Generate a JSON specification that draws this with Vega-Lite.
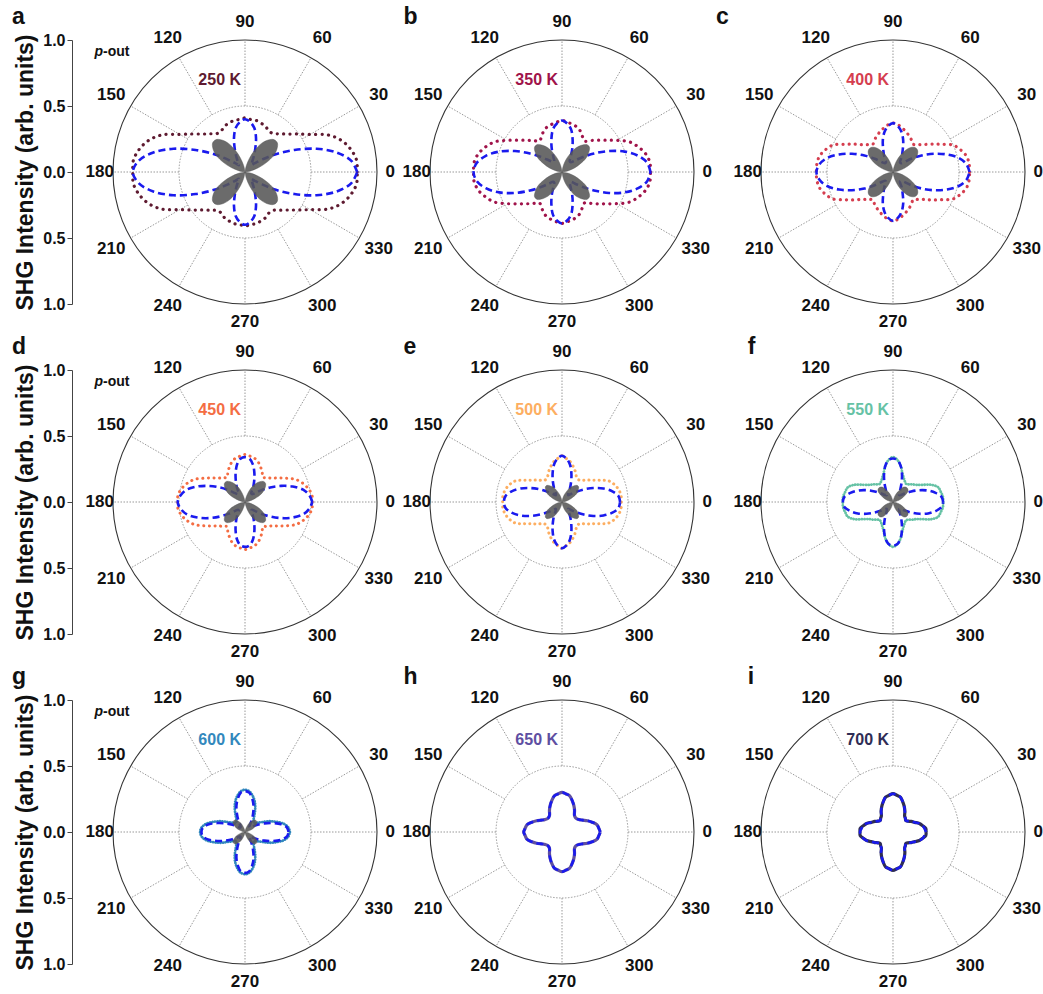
{
"$schema":"https://vega.github.io/schema/vega-lite/v6.json",
"background":"white",
"padding":{"left":12,"top":5,"right":0,"bottom":0},
"bounds":"flush",
"columns":3,
"spacing":{"row":66,"column":53},
"config":{"view":{"stroke":null},"font":"Liberation Sans"},
"datasets":{
"one":[{"o":1}],
"grid":[{"t":0,"lab":"0"},{"t":30,"lab":"30"},{"t":60,"lab":"60"},{"t":90,"lab":"90"},{"t":120,"lab":"120"},{"t":150,"lab":"150"},{"t":180,"lab":"180"},{"t":210,"lab":"210"},{"t":240,"lab":"240"},{"t":270,"lab":"270"},{"t":300,"lab":"300"},{"t":330,"lab":"330"}],
"curves":[
{"p":"a","t":0,"m":0.85,"f":0.85,"g":0},{"p":"a","t":6,"m":0.85,"f":0.81,"g":0.01},{"p":"a","t":12,"m":0.82,"f":0.71,"g":0.05},{"p":"a","t":18,"m":0.77,"f":0.57,"g":0.11},{"p":"a","t":24,"m":0.69,"f":0.41,"g":0.18},{"p":"a","t":30,"m":0.57,"f":0.27,"g":0.25},{"p":"a","t":36,"m":0.49,"f":0.16,"g":0.3},{"p":"a","t":42,"m":0.43,"f":0.1,"g":0.33},{"p":"a","t":48,"m":0.39,"f":0.07,"g":0.33},{"p":"a","t":54,"m":0.36,"f":0.09,"g":0.3},{"p":"a","t":60,"m":0.36,"f":0.13,"g":0.25},{"p":"a","t":66,"m":0.38,"f":0.19,"g":0.18},{"p":"a","t":72,"m":0.39,"f":0.27,"g":0.11},{"p":"a","t":78,"m":0.4,"f":0.34,"g":0.05},{"p":"a","t":84,"m":0.4,"f":0.38,"g":0.01},{"p":"a","t":90,"m":0.41,"f":0.4,"g":0},
{"p":"a","t":96,"m":0.4,"f":0.38,"g":0.01},{"p":"a","t":102,"m":0.4,"f":0.34,"g":0.05},{"p":"a","t":108,"m":0.39,"f":0.27,"g":0.11},{"p":"a","t":114,"m":0.38,"f":0.19,"g":0.18},{"p":"a","t":120,"m":0.36,"f":0.13,"g":0.25},{"p":"a","t":126,"m":0.36,"f":0.09,"g":0.3},{"p":"a","t":132,"m":0.39,"f":0.07,"g":0.33},{"p":"a","t":138,"m":0.43,"f":0.1,"g":0.33},{"p":"a","t":144,"m":0.49,"f":0.16,"g":0.3},{"p":"a","t":150,"m":0.57,"f":0.27,"g":0.25},{"p":"a","t":156,"m":0.69,"f":0.41,"g":0.18},{"p":"a","t":162,"m":0.77,"f":0.57,"g":0.11},{"p":"a","t":168,"m":0.82,"f":0.71,"g":0.05},{"p":"a","t":174,"m":0.85,"f":0.81,"g":0.01},
{"p":"a","t":180,"m":0.85,"f":0.85,"g":0},{"p":"a","t":186,"m":0.85,"f":0.81,"g":0.01},{"p":"a","t":192,"m":0.82,"f":0.71,"g":0.05},{"p":"a","t":198,"m":0.77,"f":0.57,"g":0.11},{"p":"a","t":204,"m":0.69,"f":0.41,"g":0.18},{"p":"a","t":210,"m":0.57,"f":0.27,"g":0.25},{"p":"a","t":216,"m":0.49,"f":0.16,"g":0.3},{"p":"a","t":222,"m":0.43,"f":0.1,"g":0.33},{"p":"a","t":228,"m":0.39,"f":0.07,"g":0.33},{"p":"a","t":234,"m":0.36,"f":0.09,"g":0.3},{"p":"a","t":240,"m":0.36,"f":0.13,"g":0.25},{"p":"a","t":246,"m":0.38,"f":0.19,"g":0.18},{"p":"a","t":252,"m":0.39,"f":0.27,"g":0.11},{"p":"a","t":258,"m":0.4,"f":0.34,"g":0.05},{"p":"a","t":264,"m":0.4,"f":0.38,"g":0.01},{"p":"a","t":270,"m":0.41,"f":0.4,"g":0},
{"p":"a","t":276,"m":0.4,"f":0.38,"g":0.01},{"p":"a","t":282,"m":0.4,"f":0.34,"g":0.05},{"p":"a","t":288,"m":0.39,"f":0.27,"g":0.11},{"p":"a","t":294,"m":0.38,"f":0.19,"g":0.18},{"p":"a","t":300,"m":0.36,"f":0.13,"g":0.25},{"p":"a","t":306,"m":0.36,"f":0.09,"g":0.3},{"p":"a","t":312,"m":0.39,"f":0.07,"g":0.33},{"p":"a","t":318,"m":0.43,"f":0.1,"g":0.33},{"p":"a","t":324,"m":0.49,"f":0.16,"g":0.3},{"p":"a","t":330,"m":0.57,"f":0.27,"g":0.25},{"p":"a","t":336,"m":0.69,"f":0.41,"g":0.18},{"p":"a","t":342,"m":0.77,"f":0.57,"g":0.11},{"p":"a","t":348,"m":0.82,"f":0.71,"g":0.05},{"p":"a","t":354,"m":0.85,"f":0.81,"g":0.01},{"p":"a","t":360,"m":0.85,"f":0.85,"g":0},

{"p":"b","t":0,"m":0.67,"f":0.67,"g":0},{"p":"b","t":6,"m":0.67,"f":0.65,"g":0.01},{"p":"b","t":12,"m":0.65,"f":0.59,"g":0.05},{"p":"b","t":18,"m":0.61,"f":0.5,"g":0.1},{"p":"b","t":24,"m":0.56,"f":0.39,"g":0.15},{"p":"b","t":30,"m":0.48,"f":0.28,"g":0.21},{"p":"b","t":36,"m":0.41,"f":0.19,"g":0.25},{"p":"b","t":42,"m":0.36,"f":0.13,"g":0.28},{"p":"b","t":48,"m":0.32,"f":0.1,"g":0.28},{"p":"b","t":54,"m":0.29,"f":0.1,"g":0.25},{"p":"b","t":60,"m":0.31,"f":0.13,"g":0.21},{"p":"b","t":66,"m":0.34,"f":0.19,"g":0.15},{"p":"b","t":72,"m":0.36,"f":0.26,"g":0.1},{"p":"b","t":78,"m":0.37,"f":0.33,"g":0.05},{"p":"b","t":84,"m":0.38,"f":0.37,"g":0.01},{"p":"b","t":90,"m":0.39,"f":0.39,"g":0},
{"p":"b","t":96,"m":0.38,"f":0.37,"g":0.01},{"p":"b","t":102,"m":0.37,"f":0.33,"g":0.05},{"p":"b","t":108,"m":0.36,"f":0.26,"g":0.1},{"p":"b","t":114,"m":0.34,"f":0.19,"g":0.15},{"p":"b","t":120,"m":0.31,"f":0.13,"g":0.21},{"p":"b","t":126,"m":0.29,"f":0.1,"g":0.25},{"p":"b","t":132,"m":0.32,"f":0.1,"g":0.28},{"p":"b","t":138,"m":0.36,"f":0.13,"g":0.28},{"p":"b","t":144,"m":0.41,"f":0.19,"g":0.25},{"p":"b","t":150,"m":0.48,"f":0.28,"g":0.21},{"p":"b","t":156,"m":0.56,"f":0.39,"g":0.15},{"p":"b","t":162,"m":0.61,"f":0.5,"g":0.1},{"p":"b","t":168,"m":0.65,"f":0.59,"g":0.05},{"p":"b","t":174,"m":0.67,"f":0.65,"g":0.01},
{"p":"b","t":180,"m":0.67,"f":0.67,"g":0},{"p":"b","t":186,"m":0.67,"f":0.65,"g":0.01},{"p":"b","t":192,"m":0.65,"f":0.59,"g":0.05},{"p":"b","t":198,"m":0.61,"f":0.5,"g":0.1},{"p":"b","t":204,"m":0.56,"f":0.39,"g":0.15},{"p":"b","t":210,"m":0.48,"f":0.28,"g":0.21},{"p":"b","t":216,"m":0.41,"f":0.19,"g":0.25},{"p":"b","t":222,"m":0.36,"f":0.13,"g":0.28},{"p":"b","t":228,"m":0.32,"f":0.1,"g":0.28},{"p":"b","t":234,"m":0.29,"f":0.1,"g":0.25},{"p":"b","t":240,"m":0.31,"f":0.13,"g":0.21},{"p":"b","t":246,"m":0.34,"f":0.19,"g":0.15},{"p":"b","t":252,"m":0.36,"f":0.26,"g":0.1},{"p":"b","t":258,"m":0.37,"f":0.33,"g":0.05},{"p":"b","t":264,"m":0.38,"f":0.37,"g":0.01},{"p":"b","t":270,"m":0.39,"f":0.39,"g":0},
{"p":"b","t":276,"m":0.38,"f":0.37,"g":0.01},{"p":"b","t":282,"m":0.37,"f":0.33,"g":0.05},{"p":"b","t":288,"m":0.36,"f":0.26,"g":0.1},{"p":"b","t":294,"m":0.34,"f":0.19,"g":0.15},{"p":"b","t":300,"m":0.31,"f":0.13,"g":0.21},{"p":"b","t":306,"m":0.29,"f":0.1,"g":0.25},{"p":"b","t":312,"m":0.32,"f":0.1,"g":0.28},{"p":"b","t":318,"m":0.36,"f":0.13,"g":0.28},{"p":"b","t":324,"m":0.41,"f":0.19,"g":0.25},{"p":"b","t":330,"m":0.48,"f":0.28,"g":0.21},{"p":"b","t":336,"m":0.56,"f":0.39,"g":0.15},{"p":"b","t":342,"m":0.61,"f":0.5,"g":0.1},{"p":"b","t":348,"m":0.65,"f":0.59,"g":0.05},{"p":"b","t":354,"m":0.67,"f":0.65,"g":0.01},{"p":"b","t":360,"m":0.67,"f":0.67,"g":0},

{"p":"c","t":0,"m":0.58,"f":0.58,"g":0},{"p":"c","t":6,"m":0.58,"f":0.56,"g":0.01},{"p":"c","t":12,"m":0.57,"f":0.51,"g":0.04},{"p":"c","t":18,"m":0.54,"f":0.43,"g":0.09},{"p":"c","t":24,"m":0.5,"f":0.34,"g":0.14},{"p":"c","t":30,"m":0.42,"f":0.25,"g":0.19},{"p":"c","t":36,"m":0.36,"f":0.17,"g":0.23},{"p":"c","t":42,"m":0.31,"f":0.11,"g":0.25},{"p":"c","t":48,"m":0.28,"f":0.09,"g":0.25},{"p":"c","t":54,"m":0.26,"f":0.09,"g":0.23},{"p":"c","t":60,"m":0.28,"f":0.13,"g":0.19},{"p":"c","t":66,"m":0.3,"f":0.18,"g":0.14},{"p":"c","t":72,"m":0.32,"f":0.25,"g":0.09},{"p":"c","t":78,"m":0.34,"f":0.31,"g":0.04},{"p":"c","t":84,"m":0.36,"f":0.35,"g":0.01},{"p":"c","t":90,"m":0.37,"f":0.37,"g":0},
{"p":"c","t":96,"m":0.36,"f":0.35,"g":0.01},{"p":"c","t":102,"m":0.34,"f":0.31,"g":0.04},{"p":"c","t":108,"m":0.32,"f":0.25,"g":0.09},{"p":"c","t":114,"m":0.3,"f":0.18,"g":0.14},{"p":"c","t":120,"m":0.28,"f":0.13,"g":0.19},{"p":"c","t":126,"m":0.26,"f":0.09,"g":0.23},{"p":"c","t":132,"m":0.28,"f":0.09,"g":0.25},{"p":"c","t":138,"m":0.31,"f":0.11,"g":0.25},{"p":"c","t":144,"m":0.36,"f":0.17,"g":0.23},{"p":"c","t":150,"m":0.42,"f":0.25,"g":0.19},{"p":"c","t":156,"m":0.5,"f":0.34,"g":0.14},{"p":"c","t":162,"m":0.54,"f":0.43,"g":0.09},{"p":"c","t":168,"m":0.57,"f":0.51,"g":0.04},{"p":"c","t":174,"m":0.58,"f":0.56,"g":0.01},
{"p":"c","t":180,"m":0.58,"f":0.58,"g":0},{"p":"c","t":186,"m":0.58,"f":0.56,"g":0.01},{"p":"c","t":192,"m":0.57,"f":0.51,"g":0.04},{"p":"c","t":198,"m":0.54,"f":0.43,"g":0.09},{"p":"c","t":204,"m":0.5,"f":0.34,"g":0.14},{"p":"c","t":210,"m":0.42,"f":0.25,"g":0.19},{"p":"c","t":216,"m":0.36,"f":0.17,"g":0.23},{"p":"c","t":222,"m":0.31,"f":0.11,"g":0.25},{"p":"c","t":228,"m":0.28,"f":0.09,"g":0.25},{"p":"c","t":234,"m":0.26,"f":0.09,"g":0.23},{"p":"c","t":240,"m":0.28,"f":0.13,"g":0.19},{"p":"c","t":246,"m":0.3,"f":0.18,"g":0.14},{"p":"c","t":252,"m":0.32,"f":0.25,"g":0.09},{"p":"c","t":258,"m":0.34,"f":0.31,"g":0.04},{"p":"c","t":264,"m":0.36,"f":0.35,"g":0.01},{"p":"c","t":270,"m":0.37,"f":0.37,"g":0},
{"p":"c","t":276,"m":0.36,"f":0.35,"g":0.01},{"p":"c","t":282,"m":0.34,"f":0.31,"g":0.04},{"p":"c","t":288,"m":0.32,"f":0.25,"g":0.09},{"p":"c","t":294,"m":0.3,"f":0.18,"g":0.14},{"p":"c","t":300,"m":0.28,"f":0.13,"g":0.19},{"p":"c","t":306,"m":0.26,"f":0.09,"g":0.23},{"p":"c","t":312,"m":0.28,"f":0.09,"g":0.25},{"p":"c","t":318,"m":0.31,"f":0.11,"g":0.25},{"p":"c","t":324,"m":0.36,"f":0.17,"g":0.23},{"p":"c","t":330,"m":0.42,"f":0.25,"g":0.19},{"p":"c","t":336,"m":0.5,"f":0.34,"g":0.14},{"p":"c","t":342,"m":0.54,"f":0.43,"g":0.09},{"p":"c","t":348,"m":0.57,"f":0.51,"g":0.04},{"p":"c","t":354,"m":0.58,"f":0.56,"g":0.01},{"p":"c","t":360,"m":0.58,"f":0.58,"g":0},

{"p":"d","t":0,"m":0.51,"f":0.51,"g":0},{"p":"d","t":6,"m":0.51,"f":0.49,"g":0.01},{"p":"d","t":12,"m":0.49,"f":0.45,"g":0.03},{"p":"d","t":18,"m":0.46,"f":0.38,"g":0.07},{"p":"d","t":24,"m":0.42,"f":0.3,"g":0.12},{"p":"d","t":30,"m":0.36,"f":0.22,"g":0.16},{"p":"d","t":36,"m":0.31,"f":0.15,"g":0.19},{"p":"d","t":42,"m":0.27,"f":0.1,"g":0.21},{"p":"d","t":48,"m":0.25,"f":0.08,"g":0.21},{"p":"d","t":54,"m":0.23,"f":0.08,"g":0.19},{"p":"d","t":60,"m":0.26,"f":0.12,"g":0.16},{"p":"d","t":66,"m":0.29,"f":0.17,"g":0.12},{"p":"d","t":72,"m":0.32,"f":0.23,"g":0.07},{"p":"d","t":78,"m":0.34,"f":0.29,"g":0.03},{"p":"d","t":84,"m":0.35,"f":0.33,"g":0.01},{"p":"d","t":90,"m":0.36,"f":0.34,"g":0},
{"p":"d","t":96,"m":0.35,"f":0.33,"g":0.01},{"p":"d","t":102,"m":0.34,"f":0.29,"g":0.03},{"p":"d","t":108,"m":0.32,"f":0.23,"g":0.07},{"p":"d","t":114,"m":0.29,"f":0.17,"g":0.12},{"p":"d","t":120,"m":0.26,"f":0.12,"g":0.16},{"p":"d","t":126,"m":0.23,"f":0.08,"g":0.19},{"p":"d","t":132,"m":0.25,"f":0.08,"g":0.21},{"p":"d","t":138,"m":0.27,"f":0.1,"g":0.21},{"p":"d","t":144,"m":0.31,"f":0.15,"g":0.19},{"p":"d","t":150,"m":0.36,"f":0.22,"g":0.16},{"p":"d","t":156,"m":0.42,"f":0.3,"g":0.12},{"p":"d","t":162,"m":0.46,"f":0.38,"g":0.07},{"p":"d","t":168,"m":0.49,"f":0.45,"g":0.03},{"p":"d","t":174,"m":0.51,"f":0.49,"g":0.01},
{"p":"d","t":180,"m":0.51,"f":0.51,"g":0},{"p":"d","t":186,"m":0.51,"f":0.49,"g":0.01},{"p":"d","t":192,"m":0.49,"f":0.45,"g":0.03},{"p":"d","t":198,"m":0.46,"f":0.38,"g":0.07},{"p":"d","t":204,"m":0.42,"f":0.3,"g":0.12},{"p":"d","t":210,"m":0.36,"f":0.22,"g":0.16},{"p":"d","t":216,"m":0.31,"f":0.15,"g":0.19},{"p":"d","t":222,"m":0.27,"f":0.1,"g":0.21},{"p":"d","t":228,"m":0.25,"f":0.08,"g":0.21},{"p":"d","t":234,"m":0.23,"f":0.08,"g":0.19},{"p":"d","t":240,"m":0.26,"f":0.12,"g":0.16},{"p":"d","t":246,"m":0.29,"f":0.17,"g":0.12},{"p":"d","t":252,"m":0.32,"f":0.23,"g":0.07},{"p":"d","t":258,"m":0.34,"f":0.29,"g":0.03},{"p":"d","t":264,"m":0.35,"f":0.33,"g":0.01},{"p":"d","t":270,"m":0.36,"f":0.34,"g":0},
{"p":"d","t":276,"m":0.35,"f":0.33,"g":0.01},{"p":"d","t":282,"m":0.34,"f":0.29,"g":0.03},{"p":"d","t":288,"m":0.32,"f":0.23,"g":0.07},{"p":"d","t":294,"m":0.29,"f":0.17,"g":0.12},{"p":"d","t":300,"m":0.26,"f":0.12,"g":0.16},{"p":"d","t":306,"m":0.23,"f":0.08,"g":0.19},{"p":"d","t":312,"m":0.25,"f":0.08,"g":0.21},{"p":"d","t":318,"m":0.27,"f":0.1,"g":0.21},{"p":"d","t":324,"m":0.31,"f":0.15,"g":0.19},{"p":"d","t":330,"m":0.36,"f":0.22,"g":0.16},{"p":"d","t":336,"m":0.42,"f":0.3,"g":0.12},{"p":"d","t":342,"m":0.46,"f":0.38,"g":0.07},{"p":"d","t":348,"m":0.49,"f":0.45,"g":0.03},{"p":"d","t":354,"m":0.51,"f":0.49,"g":0.01},{"p":"d","t":360,"m":0.51,"f":0.51,"g":0},

{"p":"e","t":0,"m":0.45,"f":0.44,"g":0},{"p":"e","t":6,"m":0.45,"f":0.43,"g":0.01},{"p":"e","t":12,"m":0.44,"f":0.39,"g":0.03},{"p":"e","t":18,"m":0.42,"f":0.33,"g":0.06},{"p":"e","t":24,"m":0.39,"f":0.26,"g":0.09},{"p":"e","t":30,"m":0.33,"f":0.19,"g":0.13},{"p":"e","t":36,"m":0.28,"f":0.13,"g":0.15},{"p":"e","t":42,"m":0.25,"f":0.09,"g":0.17},{"p":"e","t":48,"m":0.22,"f":0.07,"g":0.17},{"p":"e","t":54,"m":0.21,"f":0.08,"g":0.15},{"p":"e","t":60,"m":0.22,"f":0.12,"g":0.13},{"p":"e","t":66,"m":0.25,"f":0.17,"g":0.09},{"p":"e","t":72,"m":0.28,"f":0.23,"g":0.06},{"p":"e","t":78,"m":0.31,"f":0.29,"g":0.03},{"p":"e","t":84,"m":0.33,"f":0.33,"g":0.01},{"p":"e","t":90,"m":0.35,"f":0.35,"g":0},
{"p":"e","t":96,"m":0.33,"f":0.33,"g":0.01},{"p":"e","t":102,"m":0.31,"f":0.29,"g":0.03},{"p":"e","t":108,"m":0.28,"f":0.23,"g":0.06},{"p":"e","t":114,"m":0.25,"f":0.17,"g":0.09},{"p":"e","t":120,"m":0.22,"f":0.12,"g":0.13},{"p":"e","t":126,"m":0.21,"f":0.08,"g":0.15},{"p":"e","t":132,"m":0.22,"f":0.07,"g":0.17},{"p":"e","t":138,"m":0.25,"f":0.09,"g":0.17},{"p":"e","t":144,"m":0.28,"f":0.13,"g":0.15},{"p":"e","t":150,"m":0.33,"f":0.19,"g":0.13},{"p":"e","t":156,"m":0.39,"f":0.26,"g":0.09},{"p":"e","t":162,"m":0.42,"f":0.33,"g":0.06},{"p":"e","t":168,"m":0.44,"f":0.39,"g":0.03},{"p":"e","t":174,"m":0.45,"f":0.43,"g":0.01},
{"p":"e","t":180,"m":0.45,"f":0.44,"g":0},{"p":"e","t":186,"m":0.45,"f":0.43,"g":0.01},{"p":"e","t":192,"m":0.44,"f":0.39,"g":0.03},{"p":"e","t":198,"m":0.42,"f":0.33,"g":0.06},{"p":"e","t":204,"m":0.39,"f":0.26,"g":0.09},{"p":"e","t":210,"m":0.33,"f":0.19,"g":0.13},{"p":"e","t":216,"m":0.28,"f":0.13,"g":0.15},{"p":"e","t":222,"m":0.25,"f":0.09,"g":0.17},{"p":"e","t":228,"m":0.22,"f":0.07,"g":0.17},{"p":"e","t":234,"m":0.21,"f":0.08,"g":0.15},{"p":"e","t":240,"m":0.22,"f":0.12,"g":0.13},{"p":"e","t":246,"m":0.25,"f":0.17,"g":0.09},{"p":"e","t":252,"m":0.28,"f":0.23,"g":0.06},{"p":"e","t":258,"m":0.31,"f":0.29,"g":0.03},{"p":"e","t":264,"m":0.33,"f":0.33,"g":0.01},{"p":"e","t":270,"m":0.35,"f":0.35,"g":0},
{"p":"e","t":276,"m":0.33,"f":0.33,"g":0.01},{"p":"e","t":282,"m":0.31,"f":0.29,"g":0.03},{"p":"e","t":288,"m":0.28,"f":0.23,"g":0.06},{"p":"e","t":294,"m":0.25,"f":0.17,"g":0.09},{"p":"e","t":300,"m":0.22,"f":0.12,"g":0.13},{"p":"e","t":306,"m":0.21,"f":0.08,"g":0.15},{"p":"e","t":312,"m":0.22,"f":0.07,"g":0.17},{"p":"e","t":318,"m":0.25,"f":0.09,"g":0.17},{"p":"e","t":324,"m":0.28,"f":0.13,"g":0.15},{"p":"e","t":330,"m":0.33,"f":0.19,"g":0.13},{"p":"e","t":336,"m":0.39,"f":0.26,"g":0.09},{"p":"e","t":342,"m":0.42,"f":0.33,"g":0.06},{"p":"e","t":348,"m":0.44,"f":0.39,"g":0.03},{"p":"e","t":354,"m":0.45,"f":0.43,"g":0.01},{"p":"e","t":360,"m":0.45,"f":0.44,"g":0},

{"p":"f","t":0,"m":0.38,"f":0.38,"g":0},{"p":"f","t":6,"m":0.38,"f":0.37,"g":0.01},{"p":"f","t":12,"m":0.37,"f":0.33,"g":0.02},{"p":"f","t":18,"m":0.36,"f":0.28,"g":0.05},{"p":"f","t":24,"m":0.32,"f":0.22,"g":0.08},{"p":"f","t":30,"m":0.26,"f":0.16,"g":0.11},{"p":"f","t":36,"m":0.22,"f":0.11,"g":0.14},{"p":"f","t":42,"m":0.2,"f":0.08,"g":0.15},{"p":"f","t":48,"m":0.18,"f":0.07,"g":0.15},{"p":"f","t":54,"m":0.17,"f":0.08,"g":0.14},{"p":"f","t":60,"m":0.18,"f":0.11,"g":0.11},{"p":"f","t":66,"m":0.2,"f":0.16,"g":0.08},{"p":"f","t":72,"m":0.23,"f":0.22,"g":0.05},{"p":"f","t":78,"m":0.28,"f":0.28,"g":0.02},{"p":"f","t":84,"m":0.32,"f":0.32,"g":0.01},{"p":"f","t":90,"m":0.34,"f":0.33,"g":0},
{"p":"f","t":96,"m":0.32,"f":0.32,"g":0.01},{"p":"f","t":102,"m":0.28,"f":0.28,"g":0.02},{"p":"f","t":108,"m":0.23,"f":0.22,"g":0.05},{"p":"f","t":114,"m":0.2,"f":0.16,"g":0.08},{"p":"f","t":120,"m":0.18,"f":0.11,"g":0.11},{"p":"f","t":126,"m":0.17,"f":0.08,"g":0.14},{"p":"f","t":132,"m":0.18,"f":0.07,"g":0.15},{"p":"f","t":138,"m":0.2,"f":0.08,"g":0.15},{"p":"f","t":144,"m":0.22,"f":0.11,"g":0.14},{"p":"f","t":150,"m":0.26,"f":0.16,"g":0.11},{"p":"f","t":156,"m":0.32,"f":0.22,"g":0.08},{"p":"f","t":162,"m":0.36,"f":0.28,"g":0.05},{"p":"f","t":168,"m":0.37,"f":0.33,"g":0.02},{"p":"f","t":174,"m":0.38,"f":0.37,"g":0.01},
{"p":"f","t":180,"m":0.38,"f":0.38,"g":0},{"p":"f","t":186,"m":0.38,"f":0.37,"g":0.01},{"p":"f","t":192,"m":0.37,"f":0.33,"g":0.02},{"p":"f","t":198,"m":0.36,"f":0.28,"g":0.05},{"p":"f","t":204,"m":0.32,"f":0.22,"g":0.08},{"p":"f","t":210,"m":0.26,"f":0.16,"g":0.11},{"p":"f","t":216,"m":0.22,"f":0.11,"g":0.14},{"p":"f","t":222,"m":0.2,"f":0.08,"g":0.15},{"p":"f","t":228,"m":0.18,"f":0.07,"g":0.15},{"p":"f","t":234,"m":0.17,"f":0.08,"g":0.14},{"p":"f","t":240,"m":0.18,"f":0.11,"g":0.11},{"p":"f","t":246,"m":0.2,"f":0.16,"g":0.08},{"p":"f","t":252,"m":0.23,"f":0.22,"g":0.05},{"p":"f","t":258,"m":0.28,"f":0.28,"g":0.02},{"p":"f","t":264,"m":0.32,"f":0.32,"g":0.01},{"p":"f","t":270,"m":0.34,"f":0.33,"g":0},
{"p":"f","t":276,"m":0.32,"f":0.32,"g":0.01},{"p":"f","t":282,"m":0.28,"f":0.28,"g":0.02},{"p":"f","t":288,"m":0.23,"f":0.22,"g":0.05},{"p":"f","t":294,"m":0.2,"f":0.16,"g":0.08},{"p":"f","t":300,"m":0.18,"f":0.11,"g":0.11},{"p":"f","t":306,"m":0.17,"f":0.08,"g":0.14},{"p":"f","t":312,"m":0.18,"f":0.07,"g":0.15},{"p":"f","t":318,"m":0.2,"f":0.08,"g":0.15},{"p":"f","t":324,"m":0.22,"f":0.11,"g":0.14},{"p":"f","t":330,"m":0.26,"f":0.16,"g":0.11},{"p":"f","t":336,"m":0.32,"f":0.22,"g":0.08},{"p":"f","t":342,"m":0.36,"f":0.28,"g":0.05},{"p":"f","t":348,"m":0.37,"f":0.33,"g":0.02},{"p":"f","t":354,"m":0.38,"f":0.37,"g":0.01},{"p":"f","t":360,"m":0.38,"f":0.38,"g":0},

{"p":"g","t":0,"m":0.34,"f":0.33,"g":0},{"p":"g","t":6,"m":0.33,"f":0.32,"g":0.01},{"p":"g","t":12,"m":0.3,"f":0.28,"g":0.02},{"p":"g","t":18,"m":0.25,"f":0.22,"g":0.04},{"p":"g","t":24,"m":0.2,"f":0.16,"g":0.07},{"p":"g","t":30,"m":0.15,"f":0.11,"g":0.09},{"p":"g","t":36,"m":0.12,"f":0.07,"g":0.11},{"p":"g","t":42,"m":0.1,"f":0.05,"g":0.12},{"p":"g","t":48,"m":0.1,"f":0.05,"g":0.12},{"p":"g","t":54,"m":0.11,"f":0.06,"g":0.11},{"p":"g","t":60,"m":0.14,"f":0.1,"g":0.09},{"p":"g","t":66,"m":0.19,"f":0.15,"g":0.07},{"p":"g","t":72,"m":0.24,"f":0.21,"g":0.04},{"p":"g","t":78,"m":0.28,"f":0.26,"g":0.02},{"p":"g","t":84,"m":0.31,"f":0.3,"g":0.01},{"p":"g","t":90,"m":0.32,"f":0.31,"g":0},
{"p":"g","t":96,"m":0.31,"f":0.3,"g":0.01},{"p":"g","t":102,"m":0.28,"f":0.26,"g":0.02},{"p":"g","t":108,"m":0.24,"f":0.21,"g":0.04},{"p":"g","t":114,"m":0.19,"f":0.15,"g":0.07},{"p":"g","t":120,"m":0.14,"f":0.1,"g":0.09},{"p":"g","t":126,"m":0.11,"f":0.06,"g":0.11},{"p":"g","t":132,"m":0.1,"f":0.05,"g":0.12},{"p":"g","t":138,"m":0.1,"f":0.05,"g":0.12},{"p":"g","t":144,"m":0.12,"f":0.07,"g":0.11},{"p":"g","t":150,"m":0.15,"f":0.11,"g":0.09},{"p":"g","t":156,"m":0.2,"f":0.16,"g":0.07},{"p":"g","t":162,"m":0.25,"f":0.22,"g":0.04},{"p":"g","t":168,"m":0.3,"f":0.28,"g":0.02},{"p":"g","t":174,"m":0.33,"f":0.32,"g":0.01},
{"p":"g","t":180,"m":0.34,"f":0.33,"g":0},{"p":"g","t":186,"m":0.33,"f":0.32,"g":0.01},{"p":"g","t":192,"m":0.3,"f":0.28,"g":0.02},{"p":"g","t":198,"m":0.25,"f":0.22,"g":0.04},{"p":"g","t":204,"m":0.2,"f":0.16,"g":0.07},{"p":"g","t":210,"m":0.15,"f":0.11,"g":0.09},{"p":"g","t":216,"m":0.12,"f":0.07,"g":0.11},{"p":"g","t":222,"m":0.1,"f":0.05,"g":0.12},{"p":"g","t":228,"m":0.1,"f":0.05,"g":0.12},{"p":"g","t":234,"m":0.11,"f":0.06,"g":0.11},{"p":"g","t":240,"m":0.14,"f":0.1,"g":0.09},{"p":"g","t":246,"m":0.19,"f":0.15,"g":0.07},{"p":"g","t":252,"m":0.24,"f":0.21,"g":0.04},{"p":"g","t":258,"m":0.28,"f":0.26,"g":0.02},{"p":"g","t":264,"m":0.31,"f":0.3,"g":0.01},{"p":"g","t":270,"m":0.32,"f":0.31,"g":0},
{"p":"g","t":276,"m":0.31,"f":0.3,"g":0.01},{"p":"g","t":282,"m":0.28,"f":0.26,"g":0.02},{"p":"g","t":288,"m":0.24,"f":0.21,"g":0.04},{"p":"g","t":294,"m":0.19,"f":0.15,"g":0.07},{"p":"g","t":300,"m":0.14,"f":0.1,"g":0.09},{"p":"g","t":306,"m":0.11,"f":0.06,"g":0.11},{"p":"g","t":312,"m":0.1,"f":0.05,"g":0.12},{"p":"g","t":318,"m":0.1,"f":0.05,"g":0.12},{"p":"g","t":324,"m":0.12,"f":0.07,"g":0.11},{"p":"g","t":330,"m":0.15,"f":0.11,"g":0.09},{"p":"g","t":336,"m":0.2,"f":0.16,"g":0.07},{"p":"g","t":342,"m":0.25,"f":0.22,"g":0.04},{"p":"g","t":348,"m":0.3,"f":0.28,"g":0.02},{"p":"g","t":354,"m":0.33,"f":0.32,"g":0.01},{"p":"g","t":360,"m":0.34,"f":0.33,"g":0},

{"p":"h","t":0,"m":0.29,"f":0.29},{"p":"h","t":6,"m":0.28,"f":0.28},{"p":"h","t":12,"m":0.27,"f":0.27},{"p":"h","t":18,"m":0.24,"f":0.24},{"p":"h","t":24,"m":0.21,"f":0.21},{"p":"h","t":30,"m":0.18,"f":0.18},{"p":"h","t":36,"m":0.16,"f":0.16},{"p":"h","t":42,"m":0.15,"f":0.15},{"p":"h","t":48,"m":0.15,"f":0.15},{"p":"h","t":54,"m":0.16,"f":0.16},{"p":"h","t":60,"m":0.19,"f":0.19},{"p":"h","t":66,"m":0.22,"f":0.22},{"p":"h","t":72,"m":0.25,"f":0.25},{"p":"h","t":78,"m":0.28,"f":0.28},{"p":"h","t":84,"m":0.29,"f":0.29},{"p":"h","t":90,"m":0.3,"f":0.3},
{"p":"h","t":96,"m":0.29,"f":0.29},{"p":"h","t":102,"m":0.28,"f":0.28},{"p":"h","t":108,"m":0.25,"f":0.25},{"p":"h","t":114,"m":0.22,"f":0.22},{"p":"h","t":120,"m":0.19,"f":0.19},{"p":"h","t":126,"m":0.16,"f":0.16},{"p":"h","t":132,"m":0.15,"f":0.15},{"p":"h","t":138,"m":0.15,"f":0.15},{"p":"h","t":144,"m":0.16,"f":0.16},{"p":"h","t":150,"m":0.18,"f":0.18},{"p":"h","t":156,"m":0.21,"f":0.21},{"p":"h","t":162,"m":0.24,"f":0.24},{"p":"h","t":168,"m":0.27,"f":0.27},{"p":"h","t":174,"m":0.28,"f":0.28},
{"p":"h","t":180,"m":0.29,"f":0.29},{"p":"h","t":186,"m":0.28,"f":0.28},{"p":"h","t":192,"m":0.27,"f":0.27},{"p":"h","t":198,"m":0.24,"f":0.24},{"p":"h","t":204,"m":0.21,"f":0.21},{"p":"h","t":210,"m":0.18,"f":0.18},{"p":"h","t":216,"m":0.16,"f":0.16},{"p":"h","t":222,"m":0.15,"f":0.15},{"p":"h","t":228,"m":0.15,"f":0.15},{"p":"h","t":234,"m":0.16,"f":0.16},{"p":"h","t":240,"m":0.19,"f":0.19},{"p":"h","t":246,"m":0.22,"f":0.22},{"p":"h","t":252,"m":0.25,"f":0.25},{"p":"h","t":258,"m":0.28,"f":0.28},{"p":"h","t":264,"m":0.29,"f":0.29},{"p":"h","t":270,"m":0.3,"f":0.3},
{"p":"h","t":276,"m":0.29,"f":0.29},{"p":"h","t":282,"m":0.28,"f":0.28},{"p":"h","t":288,"m":0.25,"f":0.25},{"p":"h","t":294,"m":0.22,"f":0.22},{"p":"h","t":300,"m":0.19,"f":0.19},{"p":"h","t":306,"m":0.16,"f":0.16},{"p":"h","t":312,"m":0.15,"f":0.15},{"p":"h","t":318,"m":0.15,"f":0.15},{"p":"h","t":324,"m":0.16,"f":0.16},{"p":"h","t":330,"m":0.18,"f":0.18},{"p":"h","t":336,"m":0.21,"f":0.21},{"p":"h","t":342,"m":0.24,"f":0.24},{"p":"h","t":348,"m":0.27,"f":0.27},{"p":"h","t":354,"m":0.28,"f":0.28},{"p":"h","t":360,"m":0.29,"f":0.29},

{"p":"i","t":0,"m":0.25,"f":0.25},{"p":"i","t":6,"m":0.25,"f":0.24},{"p":"i","t":12,"m":0.23,"f":0.23},{"p":"i","t":18,"m":0.21,"f":0.21},{"p":"i","t":24,"m":0.18,"f":0.18},{"p":"i","t":30,"m":0.16,"f":0.16},{"p":"i","t":36,"m":0.14,"f":0.14},{"p":"i","t":42,"m":0.13,"f":0.13},{"p":"i","t":48,"m":0.14,"f":0.14},{"p":"i","t":54,"m":0.15,"f":0.15},{"p":"i","t":60,"m":0.18,"f":0.18},{"p":"i","t":66,"m":0.21,"f":0.21},{"p":"i","t":72,"m":0.24,"f":0.24},{"p":"i","t":78,"m":0.27,"f":0.27},{"p":"i","t":84,"m":0.28,"f":0.28},{"p":"i","t":90,"m":0.29,"f":0.29},
{"p":"i","t":96,"m":0.28,"f":0.28},{"p":"i","t":102,"m":0.27,"f":0.27},{"p":"i","t":108,"m":0.24,"f":0.24},{"p":"i","t":114,"m":0.21,"f":0.21},{"p":"i","t":120,"m":0.18,"f":0.18},{"p":"i","t":126,"m":0.15,"f":0.15},{"p":"i","t":132,"m":0.14,"f":0.14},{"p":"i","t":138,"m":0.13,"f":0.13},{"p":"i","t":144,"m":0.14,"f":0.14},{"p":"i","t":150,"m":0.16,"f":0.16},{"p":"i","t":156,"m":0.18,"f":0.18},{"p":"i","t":162,"m":0.21,"f":0.21},{"p":"i","t":168,"m":0.23,"f":0.23},{"p":"i","t":174,"m":0.25,"f":0.24},
{"p":"i","t":180,"m":0.25,"f":0.25},{"p":"i","t":186,"m":0.25,"f":0.24},{"p":"i","t":192,"m":0.23,"f":0.23},{"p":"i","t":198,"m":0.21,"f":0.21},{"p":"i","t":204,"m":0.18,"f":0.18},{"p":"i","t":210,"m":0.16,"f":0.16},{"p":"i","t":216,"m":0.14,"f":0.14},{"p":"i","t":222,"m":0.13,"f":0.13},{"p":"i","t":228,"m":0.14,"f":0.14},{"p":"i","t":234,"m":0.15,"f":0.15},{"p":"i","t":240,"m":0.18,"f":0.18},{"p":"i","t":246,"m":0.21,"f":0.21},{"p":"i","t":252,"m":0.24,"f":0.24},{"p":"i","t":258,"m":0.27,"f":0.27},{"p":"i","t":264,"m":0.28,"f":0.28},{"p":"i","t":270,"m":0.29,"f":0.29},
{"p":"i","t":276,"m":0.28,"f":0.28},{"p":"i","t":282,"m":0.27,"f":0.27},{"p":"i","t":288,"m":0.24,"f":0.24},{"p":"i","t":294,"m":0.21,"f":0.21},{"p":"i","t":300,"m":0.18,"f":0.18},{"p":"i","t":306,"m":0.15,"f":0.15},{"p":"i","t":312,"m":0.14,"f":0.14},{"p":"i","t":318,"m":0.13,"f":0.13},{"p":"i","t":324,"m":0.14,"f":0.14},{"p":"i","t":330,"m":0.16,"f":0.16},{"p":"i","t":336,"m":0.18,"f":0.18},{"p":"i","t":342,"m":0.21,"f":0.21},{"p":"i","t":348,"m":0.23,"f":0.23},{"p":"i","t":354,"m":0.25,"f":0.24},{"p":"i","t":360,"m":0.25,"f":0.25}
]
},
"concat":[
{"width":264,"height":264,
 "encoding":{"x":{"field":"x","type":"quantitative","scale":{"domain":[-1,1],"nice":false,"zero":false},"axis":null},
  "y":{"field":"y","type":"quantitative","scale":{"domain":[-1,1],"nice":false,"zero":false},"axis":{"title":"SHG Intensity (arb. units)","values":[-1,-0.5,0,0.5,1],"labelExpr":"format(abs(datum.value),'.1f')","offset":41,"grid":false,"domainColor":"#444444","tickColor":"#444444","tickSize":5,"labelFontSize":16,"labelFontWeight":"bold","labelColor":"#111111","labelPadding":2,"labelFlush":false,"labelOverlap":false,"titleFontSize":23,"titleFontWeight":"bold","titleColor":"#111111","titlePadding":5}}},
 "layer":[
  {"data":{"name":"one"},"transform":[{"calculate":"0","as":"x"},{"calculate":"0","as":"y"}],"mark":{"type":"point","shape":"circle","size":69696,"filled":false,"color":"#333333","strokeWidth":1.1,"opacity":1}},
  {"data":{"name":"one"},"transform":[{"calculate":"0","as":"x"},{"calculate":"0","as":"y"}],"mark":{"type":"point","shape":"circle","size":17424,"filled":false,"color":"#999999","strokeWidth":1,"strokeDash":[1.5,1.5],"opacity":1}},
  {"data":{"name":"grid"},"transform":[{"calculate":"0.5*cos(datum.t*PI/180)","as":"x"},{"calculate":"0.5*sin(datum.t*PI/180)","as":"y"},{"calculate":"cos(datum.t*PI/180)","as":"x2"},{"calculate":"sin(datum.t*PI/180)","as":"y2"}],"mark":{"type":"rule","color":"#999999","strokeWidth":1,"strokeDash":[1.5,1.5]},"encoding":{"x2":{"field":"x2"},"y2":{"field":"y2"}}},
  {"data":{"name":"grid"},"transform":[{"calculate":"datum.t%180==0?1.1:(datum.t%180==90?1.14:1.17)","as":"lr"},{"calculate":"datum.lr*cos(datum.t*PI/180)","as":"x"},{"calculate":"datum.lr*sin(datum.t*PI/180)","as":"y"}],"mark":{"type":"text","fontSize":17,"fontWeight":"bold","color":"#111111","align":"center","baseline":"middle"},"encoding":{"text":{"field":"lab"}}},
  {"data":{"name":"curves"},"transform":[{"filter":"datum.p=='a'"},{"calculate":"datum.m*cos(datum.t*PI/180)","as":"x"},{"calculate":"datum.m*sin(datum.t*PI/180)","as":"y"}],"mark":{"type":"line","color":"#5e1a30","strokeWidth":3.2,"strokeDash":[0.1,6.3],"strokeCap":"round","interpolate":"catmull-rom"},"encoding":{"order":{"field":"t","type":"quantitative"}}},
  {"data":{"name":"curves"},"transform":[{"filter":"datum.p=='a'"},{"calculate":"datum.f*cos(datum.t*PI/180)","as":"x"},{"calculate":"datum.f*sin(datum.t*PI/180)","as":"y"}],"mark":{"type":"line","color":"#1a1aee","strokeWidth":2.6,"strokeDash":[7,4],"interpolate":"catmull-rom"},"encoding":{"order":{"field":"t","type":"quantitative"}}},
  {"data":{"name":"curves"},"transform":[{"filter":"datum.p=='a'"},{"calculate":"datum.g*cos(datum.t*PI/180)","as":"x"},{"calculate":"datum.g*sin(datum.t*PI/180)","as":"y"}],"mark":{"type":"line","color":"#575757","fill":"#575757","fillOpacity":0.88,"strokeWidth":0.5,"strokeOpacity":0.88,"interpolate":"catmull-rom"},"encoding":{"order":{"field":"t","type":"quantitative"}}},
  {"data":{"name":"one"},"transform":[{"calculate":"-0.03","as":"x"},{"calculate":"0.7","as":"y"}],"mark":{"type":"text","text":"250 K","fontSize":16,"fontWeight":"bold","color":"#5e1a30","align":"right","baseline":"middle"}},
  {"data":{"name":"one"},"transform":[{"calculate":"-1.765","as":"x"},{"calculate":"1.125","as":"y"}],"mark":{"type":"text","text":"a","fontSize":23,"fontWeight":"bold","color":"#111111","align":"left","baseline":"alphabetic"}},
  {"data":{"name":"one"},"transform":[{"calculate":"-1.14","as":"x"},{"calculate":"0.91","as":"y"}],"mark":{"type":"text","text":"p","fontSize":14,"fontWeight":"bold","fontStyle":"italic","color":"#111111","align":"left","baseline":"middle"}},
  {"data":{"name":"one"},"transform":[{"calculate":"-1.075","as":"x"},{"calculate":"0.91","as":"y"}],"mark":{"type":"text","text":"-out","fontSize":14,"fontWeight":"bold","color":"#111111","align":"left","baseline":"middle"}}
 ]},
{"width":264,"height":264,
 "encoding":{"x":{"field":"x","type":"quantitative","scale":{"domain":[-1,1],"nice":false,"zero":false},"axis":null},
  "y":{"field":"y","type":"quantitative","scale":{"domain":[-1,1],"nice":false,"zero":false},"axis":null}},
 "layer":[
  {"data":{"name":"one"},"transform":[{"calculate":"0","as":"x"},{"calculate":"0","as":"y"}],"mark":{"type":"point","shape":"circle","size":69696,"filled":false,"color":"#333333","strokeWidth":1.1,"opacity":1}},
  {"data":{"name":"one"},"transform":[{"calculate":"0","as":"x"},{"calculate":"0","as":"y"}],"mark":{"type":"point","shape":"circle","size":17424,"filled":false,"color":"#999999","strokeWidth":1,"strokeDash":[1.5,1.5],"opacity":1}},
  {"data":{"name":"grid"},"transform":[{"calculate":"0.5*cos(datum.t*PI/180)","as":"x"},{"calculate":"0.5*sin(datum.t*PI/180)","as":"y"},{"calculate":"cos(datum.t*PI/180)","as":"x2"},{"calculate":"sin(datum.t*PI/180)","as":"y2"}],"mark":{"type":"rule","color":"#999999","strokeWidth":1,"strokeDash":[1.5,1.5]},"encoding":{"x2":{"field":"x2"},"y2":{"field":"y2"}}},
  {"data":{"name":"grid"},"transform":[{"calculate":"datum.t%180==0?1.1:(datum.t%180==90?1.14:1.17)","as":"lr"},{"calculate":"datum.lr*cos(datum.t*PI/180)","as":"x"},{"calculate":"datum.lr*sin(datum.t*PI/180)","as":"y"}],"mark":{"type":"text","fontSize":17,"fontWeight":"bold","color":"#111111","align":"center","baseline":"middle"},"encoding":{"text":{"field":"lab"}}},
  {"data":{"name":"curves"},"transform":[{"filter":"datum.p=='b'"},{"calculate":"datum.m*cos(datum.t*PI/180)","as":"x"},{"calculate":"datum.m*sin(datum.t*PI/180)","as":"y"}],"mark":{"type":"line","color":"#a0134a","strokeWidth":3.2,"strokeDash":[0.1,6.3],"strokeCap":"round","interpolate":"catmull-rom"},"encoding":{"order":{"field":"t","type":"quantitative"}}},
  {"data":{"name":"curves"},"transform":[{"filter":"datum.p=='b'"},{"calculate":"datum.f*cos(datum.t*PI/180)","as":"x"},{"calculate":"datum.f*sin(datum.t*PI/180)","as":"y"}],"mark":{"type":"line","color":"#1a1aee","strokeWidth":2.6,"strokeDash":[7,4],"interpolate":"catmull-rom"},"encoding":{"order":{"field":"t","type":"quantitative"}}},
  {"data":{"name":"curves"},"transform":[{"filter":"datum.p=='b'"},{"calculate":"datum.g*cos(datum.t*PI/180)","as":"x"},{"calculate":"datum.g*sin(datum.t*PI/180)","as":"y"}],"mark":{"type":"line","color":"#575757","fill":"#575757","fillOpacity":0.88,"strokeWidth":0.5,"strokeOpacity":0.88,"interpolate":"catmull-rom"},"encoding":{"order":{"field":"t","type":"quantitative"}}},
  {"data":{"name":"one"},"transform":[{"calculate":"-0.03","as":"x"},{"calculate":"0.7","as":"y"}],"mark":{"type":"text","text":"350 K","fontSize":16,"fontWeight":"bold","color":"#a0134a","align":"right","baseline":"middle"}},
  {"data":{"name":"one"},"transform":[{"calculate":"-1.2","as":"x"},{"calculate":"1.125","as":"y"}],"mark":{"type":"text","text":"b","fontSize":23,"fontWeight":"bold","color":"#111111","align":"left","baseline":"alphabetic"}}
 ]},
{"width":278,"height":264,
 "encoding":{"x":{"field":"x","type":"quantitative","scale":{"domain":[-1.106,1],"nice":false,"zero":false},"axis":null},
  "y":{"field":"y","type":"quantitative","scale":{"domain":[-1,1],"nice":false,"zero":false},"axis":null}},
 "layer":[
  {"data":{"name":"one"},"transform":[{"calculate":"0","as":"x"},{"calculate":"0","as":"y"}],"mark":{"type":"point","shape":"circle","size":69696,"filled":false,"color":"#333333","strokeWidth":1.1,"opacity":1}},
  {"data":{"name":"one"},"transform":[{"calculate":"0","as":"x"},{"calculate":"0","as":"y"}],"mark":{"type":"point","shape":"circle","size":17424,"filled":false,"color":"#999999","strokeWidth":1,"strokeDash":[1.5,1.5],"opacity":1}},
  {"data":{"name":"grid"},"transform":[{"calculate":"0.5*cos(datum.t*PI/180)","as":"x"},{"calculate":"0.5*sin(datum.t*PI/180)","as":"y"},{"calculate":"cos(datum.t*PI/180)","as":"x2"},{"calculate":"sin(datum.t*PI/180)","as":"y2"}],"mark":{"type":"rule","color":"#999999","strokeWidth":1,"strokeDash":[1.5,1.5]},"encoding":{"x2":{"field":"x2"},"y2":{"field":"y2"}}},
  {"data":{"name":"grid"},"transform":[{"calculate":"datum.t%180==0?1.1:(datum.t%180==90?1.14:1.17)","as":"lr"},{"calculate":"datum.lr*cos(datum.t*PI/180)","as":"x"},{"calculate":"datum.lr*sin(datum.t*PI/180)","as":"y"}],"mark":{"type":"text","fontSize":17,"fontWeight":"bold","color":"#111111","align":"center","baseline":"middle"},"encoding":{"text":{"field":"lab"}}},
  {"data":{"name":"curves"},"transform":[{"filter":"datum.p=='c'"},{"calculate":"datum.m*cos(datum.t*PI/180)","as":"x"},{"calculate":"datum.m*sin(datum.t*PI/180)","as":"y"}],"mark":{"type":"line","color":"#d53e4f","strokeWidth":3.2,"strokeDash":[0.1,6],"strokeCap":"round","interpolate":"catmull-rom"},"encoding":{"order":{"field":"t","type":"quantitative"}}},
  {"data":{"name":"curves"},"transform":[{"filter":"datum.p=='c'"},{"calculate":"datum.f*cos(datum.t*PI/180)","as":"x"},{"calculate":"datum.f*sin(datum.t*PI/180)","as":"y"}],"mark":{"type":"line","color":"#1a1aee","strokeWidth":2.6,"strokeDash":[7,4],"interpolate":"catmull-rom"},"encoding":{"order":{"field":"t","type":"quantitative"}}},
  {"data":{"name":"curves"},"transform":[{"filter":"datum.p=='c'"},{"calculate":"datum.g*cos(datum.t*PI/180)","as":"x"},{"calculate":"datum.g*sin(datum.t*PI/180)","as":"y"}],"mark":{"type":"line","color":"#575757","fill":"#575757","fillOpacity":0.88,"strokeWidth":0.5,"strokeOpacity":0.88,"interpolate":"catmull-rom"},"encoding":{"order":{"field":"t","type":"quantitative"}}},
  {"data":{"name":"one"},"transform":[{"calculate":"-0.03","as":"x"},{"calculate":"0.7","as":"y"}],"mark":{"type":"text","text":"400 K","fontSize":16,"fontWeight":"bold","color":"#d53e4f","align":"right","baseline":"middle"}},
  {"data":{"name":"one"},"transform":[{"calculate":"-1.34","as":"x"},{"calculate":"1.125","as":"y"}],"mark":{"type":"text","text":"c","fontSize":23,"fontWeight":"bold","color":"#111111","align":"left","baseline":"alphabetic"}}
 ]},
{"width":264,"height":264,
 "encoding":{"x":{"field":"x","type":"quantitative","scale":{"domain":[-1,1],"nice":false,"zero":false},"axis":null},
  "y":{"field":"y","type":"quantitative","scale":{"domain":[-1,1],"nice":false,"zero":false},"axis":{"title":"SHG Intensity (arb. units)","values":[-1,-0.5,0,0.5,1],"labelExpr":"format(abs(datum.value),'.1f')","offset":41,"grid":false,"domainColor":"#444444","tickColor":"#444444","tickSize":5,"labelFontSize":16,"labelFontWeight":"bold","labelColor":"#111111","labelPadding":2,"labelFlush":false,"labelOverlap":false,"titleFontSize":23,"titleFontWeight":"bold","titleColor":"#111111","titlePadding":5}}},
 "layer":[
  {"data":{"name":"one"},"transform":[{"calculate":"0","as":"x"},{"calculate":"0","as":"y"}],"mark":{"type":"point","shape":"circle","size":69696,"filled":false,"color":"#333333","strokeWidth":1.1,"opacity":1}},
  {"data":{"name":"one"},"transform":[{"calculate":"0","as":"x"},{"calculate":"0","as":"y"}],"mark":{"type":"point","shape":"circle","size":17424,"filled":false,"color":"#999999","strokeWidth":1,"strokeDash":[1.5,1.5],"opacity":1}},
  {"data":{"name":"grid"},"transform":[{"calculate":"0.5*cos(datum.t*PI/180)","as":"x"},{"calculate":"0.5*sin(datum.t*PI/180)","as":"y"},{"calculate":"cos(datum.t*PI/180)","as":"x2"},{"calculate":"sin(datum.t*PI/180)","as":"y2"}],"mark":{"type":"rule","color":"#999999","strokeWidth":1,"strokeDash":[1.5,1.5]},"encoding":{"x2":{"field":"x2"},"y2":{"field":"y2"}}},
  {"data":{"name":"grid"},"transform":[{"calculate":"datum.t%180==0?1.1:(datum.t%180==90?1.14:1.17)","as":"lr"},{"calculate":"datum.lr*cos(datum.t*PI/180)","as":"x"},{"calculate":"datum.lr*sin(datum.t*PI/180)","as":"y"}],"mark":{"type":"text","fontSize":17,"fontWeight":"bold","color":"#111111","align":"center","baseline":"middle"},"encoding":{"text":{"field":"lab"}}},
  {"data":{"name":"curves"},"transform":[{"filter":"datum.p=='d'"},{"calculate":"datum.m*cos(datum.t*PI/180)","as":"x"},{"calculate":"datum.m*sin(datum.t*PI/180)","as":"y"}],"mark":{"type":"line","color":"#f46d43","strokeWidth":3,"strokeDash":[0.1,5.5],"strokeCap":"round","interpolate":"catmull-rom"},"encoding":{"order":{"field":"t","type":"quantitative"}}},
  {"data":{"name":"curves"},"transform":[{"filter":"datum.p=='d'"},{"calculate":"datum.f*cos(datum.t*PI/180)","as":"x"},{"calculate":"datum.f*sin(datum.t*PI/180)","as":"y"}],"mark":{"type":"line","color":"#1a1aee","strokeWidth":2.6,"strokeDash":[7,4],"interpolate":"catmull-rom"},"encoding":{"order":{"field":"t","type":"quantitative"}}},
  {"data":{"name":"curves"},"transform":[{"filter":"datum.p=='d'"},{"calculate":"datum.g*cos(datum.t*PI/180)","as":"x"},{"calculate":"datum.g*sin(datum.t*PI/180)","as":"y"}],"mark":{"type":"line","color":"#575757","fill":"#575757","fillOpacity":0.88,"strokeWidth":0.5,"strokeOpacity":0.88,"interpolate":"catmull-rom"},"encoding":{"order":{"field":"t","type":"quantitative"}}},
  {"data":{"name":"one"},"transform":[{"calculate":"-0.03","as":"x"},{"calculate":"0.7","as":"y"}],"mark":{"type":"text","text":"450 K","fontSize":16,"fontWeight":"bold","color":"#f46d43","align":"right","baseline":"middle"}},
  {"data":{"name":"one"},"transform":[{"calculate":"-1.765","as":"x"},{"calculate":"1.125","as":"y"}],"mark":{"type":"text","text":"d","fontSize":23,"fontWeight":"bold","color":"#111111","align":"left","baseline":"alphabetic"}},
  {"data":{"name":"one"},"transform":[{"calculate":"-1.14","as":"x"},{"calculate":"0.91","as":"y"}],"mark":{"type":"text","text":"p","fontSize":14,"fontWeight":"bold","fontStyle":"italic","color":"#111111","align":"left","baseline":"middle"}},
  {"data":{"name":"one"},"transform":[{"calculate":"-1.075","as":"x"},{"calculate":"0.91","as":"y"}],"mark":{"type":"text","text":"-out","fontSize":14,"fontWeight":"bold","color":"#111111","align":"left","baseline":"middle"}}
 ]},
{"width":264,"height":264,
 "encoding":{"x":{"field":"x","type":"quantitative","scale":{"domain":[-1,1],"nice":false,"zero":false},"axis":null},
  "y":{"field":"y","type":"quantitative","scale":{"domain":[-1,1],"nice":false,"zero":false},"axis":null}},
 "layer":[
  {"data":{"name":"one"},"transform":[{"calculate":"0","as":"x"},{"calculate":"0","as":"y"}],"mark":{"type":"point","shape":"circle","size":69696,"filled":false,"color":"#333333","strokeWidth":1.1,"opacity":1}},
  {"data":{"name":"one"},"transform":[{"calculate":"0","as":"x"},{"calculate":"0","as":"y"}],"mark":{"type":"point","shape":"circle","size":17424,"filled":false,"color":"#999999","strokeWidth":1,"strokeDash":[1.5,1.5],"opacity":1}},
  {"data":{"name":"grid"},"transform":[{"calculate":"0.5*cos(datum.t*PI/180)","as":"x"},{"calculate":"0.5*sin(datum.t*PI/180)","as":"y"},{"calculate":"cos(datum.t*PI/180)","as":"x2"},{"calculate":"sin(datum.t*PI/180)","as":"y2"}],"mark":{"type":"rule","color":"#999999","strokeWidth":1,"strokeDash":[1.5,1.5]},"encoding":{"x2":{"field":"x2"},"y2":{"field":"y2"}}},
  {"data":{"name":"grid"},"transform":[{"calculate":"datum.t%180==0?1.1:(datum.t%180==90?1.14:1.17)","as":"lr"},{"calculate":"datum.lr*cos(datum.t*PI/180)","as":"x"},{"calculate":"datum.lr*sin(datum.t*PI/180)","as":"y"}],"mark":{"type":"text","fontSize":17,"fontWeight":"bold","color":"#111111","align":"center","baseline":"middle"},"encoding":{"text":{"field":"lab"}}},
  {"data":{"name":"curves"},"transform":[{"filter":"datum.p=='e'"},{"calculate":"datum.m*cos(datum.t*PI/180)","as":"x"},{"calculate":"datum.m*sin(datum.t*PI/180)","as":"y"}],"mark":{"type":"line","color":"#fdae61","strokeWidth":3,"strokeDash":[0.1,5],"strokeCap":"round","interpolate":"catmull-rom"},"encoding":{"order":{"field":"t","type":"quantitative"}}},
  {"data":{"name":"curves"},"transform":[{"filter":"datum.p=='e'"},{"calculate":"datum.f*cos(datum.t*PI/180)","as":"x"},{"calculate":"datum.f*sin(datum.t*PI/180)","as":"y"}],"mark":{"type":"line","color":"#1a1aee","strokeWidth":2.6,"strokeDash":[7,4],"interpolate":"catmull-rom"},"encoding":{"order":{"field":"t","type":"quantitative"}}},
  {"data":{"name":"curves"},"transform":[{"filter":"datum.p=='e'"},{"calculate":"datum.g*cos(datum.t*PI/180)","as":"x"},{"calculate":"datum.g*sin(datum.t*PI/180)","as":"y"}],"mark":{"type":"line","color":"#575757","fill":"#575757","fillOpacity":0.88,"strokeWidth":0.5,"strokeOpacity":0.88,"interpolate":"catmull-rom"},"encoding":{"order":{"field":"t","type":"quantitative"}}},
  {"data":{"name":"one"},"transform":[{"calculate":"-0.03","as":"x"},{"calculate":"0.7","as":"y"}],"mark":{"type":"text","text":"500 K","fontSize":16,"fontWeight":"bold","color":"#fdae61","align":"right","baseline":"middle"}},
  {"data":{"name":"one"},"transform":[{"calculate":"-1.2","as":"x"},{"calculate":"1.125","as":"y"}],"mark":{"type":"text","text":"e","fontSize":23,"fontWeight":"bold","color":"#111111","align":"left","baseline":"alphabetic"}}
 ]},
{"width":278,"height":264,
 "encoding":{"x":{"field":"x","type":"quantitative","scale":{"domain":[-1.106,1],"nice":false,"zero":false},"axis":null},
  "y":{"field":"y","type":"quantitative","scale":{"domain":[-1,1],"nice":false,"zero":false},"axis":null}},
 "layer":[
  {"data":{"name":"one"},"transform":[{"calculate":"0","as":"x"},{"calculate":"0","as":"y"}],"mark":{"type":"point","shape":"circle","size":69696,"filled":false,"color":"#333333","strokeWidth":1.1,"opacity":1}},
  {"data":{"name":"one"},"transform":[{"calculate":"0","as":"x"},{"calculate":"0","as":"y"}],"mark":{"type":"point","shape":"circle","size":17424,"filled":false,"color":"#999999","strokeWidth":1,"strokeDash":[1.5,1.5],"opacity":1}},
  {"data":{"name":"grid"},"transform":[{"calculate":"0.5*cos(datum.t*PI/180)","as":"x"},{"calculate":"0.5*sin(datum.t*PI/180)","as":"y"},{"calculate":"cos(datum.t*PI/180)","as":"x2"},{"calculate":"sin(datum.t*PI/180)","as":"y2"}],"mark":{"type":"rule","color":"#999999","strokeWidth":1,"strokeDash":[1.5,1.5]},"encoding":{"x2":{"field":"x2"},"y2":{"field":"y2"}}},
  {"data":{"name":"grid"},"transform":[{"calculate":"datum.t%180==0?1.1:(datum.t%180==90?1.14:1.17)","as":"lr"},{"calculate":"datum.lr*cos(datum.t*PI/180)","as":"x"},{"calculate":"datum.lr*sin(datum.t*PI/180)","as":"y"}],"mark":{"type":"text","fontSize":17,"fontWeight":"bold","color":"#111111","align":"center","baseline":"middle"},"encoding":{"text":{"field":"lab"}}},
  {"data":{"name":"curves"},"transform":[{"filter":"datum.p=='f'"},{"calculate":"datum.m*cos(datum.t*PI/180)","as":"x"},{"calculate":"datum.m*sin(datum.t*PI/180)","as":"y"}],"mark":{"type":"line","color":"#66c2a5","strokeWidth":2.8,"strokeDash":[0.1,2.6],"strokeCap":"round","interpolate":"catmull-rom"},"encoding":{"order":{"field":"t","type":"quantitative"}}},
  {"data":{"name":"curves"},"transform":[{"filter":"datum.p=='f'"},{"calculate":"datum.f*cos(datum.t*PI/180)","as":"x"},{"calculate":"datum.f*sin(datum.t*PI/180)","as":"y"}],"mark":{"type":"line","color":"#1a1aee","strokeWidth":2.6,"strokeDash":[7,4],"interpolate":"catmull-rom"},"encoding":{"order":{"field":"t","type":"quantitative"}}},
  {"data":{"name":"curves"},"transform":[{"filter":"datum.p=='f'"},{"calculate":"datum.g*cos(datum.t*PI/180)","as":"x"},{"calculate":"datum.g*sin(datum.t*PI/180)","as":"y"}],"mark":{"type":"line","color":"#575757","fill":"#575757","fillOpacity":0.88,"strokeWidth":0.5,"strokeOpacity":0.88,"interpolate":"catmull-rom"},"encoding":{"order":{"field":"t","type":"quantitative"}}},
  {"data":{"name":"one"},"transform":[{"calculate":"-0.03","as":"x"},{"calculate":"0.7","as":"y"}],"mark":{"type":"text","text":"550 K","fontSize":16,"fontWeight":"bold","color":"#66c2a5","align":"right","baseline":"middle"}},
  {"data":{"name":"one"},"transform":[{"calculate":"-1.1","as":"x"},{"calculate":"1.125","as":"y"}],"mark":{"type":"text","text":"f","fontSize":23,"fontWeight":"bold","color":"#111111","align":"left","baseline":"alphabetic"}}
 ]},
{"width":264,"height":264,
 "encoding":{"x":{"field":"x","type":"quantitative","scale":{"domain":[-1,1],"nice":false,"zero":false},"axis":null},
  "y":{"field":"y","type":"quantitative","scale":{"domain":[-1,1],"nice":false,"zero":false},"axis":{"title":"SHG Intensity (arb. units)","values":[-1,-0.5,0,0.5,1],"labelExpr":"format(abs(datum.value),'.1f')","offset":41,"grid":false,"domainColor":"#444444","tickColor":"#444444","tickSize":5,"labelFontSize":16,"labelFontWeight":"bold","labelColor":"#111111","labelPadding":2,"labelFlush":false,"labelOverlap":false,"titleFontSize":23,"titleFontWeight":"bold","titleColor":"#111111","titlePadding":5}}},
 "layer":[
  {"data":{"name":"one"},"transform":[{"calculate":"0","as":"x"},{"calculate":"0","as":"y"}],"mark":{"type":"point","shape":"circle","size":69696,"filled":false,"color":"#333333","strokeWidth":1.1,"opacity":1}},
  {"data":{"name":"one"},"transform":[{"calculate":"0","as":"x"},{"calculate":"0","as":"y"}],"mark":{"type":"point","shape":"circle","size":17424,"filled":false,"color":"#999999","strokeWidth":1,"strokeDash":[1.5,1.5],"opacity":1}},
  {"data":{"name":"grid"},"transform":[{"calculate":"0.5*cos(datum.t*PI/180)","as":"x"},{"calculate":"0.5*sin(datum.t*PI/180)","as":"y"},{"calculate":"cos(datum.t*PI/180)","as":"x2"},{"calculate":"sin(datum.t*PI/180)","as":"y2"}],"mark":{"type":"rule","color":"#999999","strokeWidth":1,"strokeDash":[1.5,1.5]},"encoding":{"x2":{"field":"x2"},"y2":{"field":"y2"}}},
  {"data":{"name":"grid"},"transform":[{"calculate":"datum.t%180==0?1.1:(datum.t%180==90?1.14:1.17)","as":"lr"},{"calculate":"datum.lr*cos(datum.t*PI/180)","as":"x"},{"calculate":"datum.lr*sin(datum.t*PI/180)","as":"y"}],"mark":{"type":"text","fontSize":17,"fontWeight":"bold","color":"#111111","align":"center","baseline":"middle"},"encoding":{"text":{"field":"lab"}}},
  {"data":{"name":"curves"},"transform":[{"filter":"datum.p=='g'"},{"calculate":"datum.m*cos(datum.t*PI/180)","as":"x"},{"calculate":"datum.m*sin(datum.t*PI/180)","as":"y"}],"mark":{"type":"line","color":"#3288bd","strokeWidth":2.8,"strokeDash":[0.1,2.4],"strokeCap":"round","interpolate":"catmull-rom"},"encoding":{"order":{"field":"t","type":"quantitative"}}},
  {"data":{"name":"curves"},"transform":[{"filter":"datum.p=='g'"},{"calculate":"datum.f*cos(datum.t*PI/180)","as":"x"},{"calculate":"datum.f*sin(datum.t*PI/180)","as":"y"}],"mark":{"type":"line","color":"#1a1aee","strokeWidth":2.6,"strokeDash":[7,4],"interpolate":"catmull-rom"},"encoding":{"order":{"field":"t","type":"quantitative"}}},
  {"data":{"name":"curves"},"transform":[{"filter":"datum.p=='g'"},{"calculate":"datum.g*cos(datum.t*PI/180)","as":"x"},{"calculate":"datum.g*sin(datum.t*PI/180)","as":"y"}],"mark":{"type":"line","color":"#575757","fill":"#575757","fillOpacity":0.88,"strokeWidth":0.5,"strokeOpacity":0.88,"interpolate":"catmull-rom"},"encoding":{"order":{"field":"t","type":"quantitative"}}},
  {"data":{"name":"one"},"transform":[{"calculate":"-0.03","as":"x"},{"calculate":"0.7","as":"y"}],"mark":{"type":"text","text":"600 K","fontSize":16,"fontWeight":"bold","color":"#3288bd","align":"right","baseline":"middle"}},
  {"data":{"name":"one"},"transform":[{"calculate":"-1.765","as":"x"},{"calculate":"1.125","as":"y"}],"mark":{"type":"text","text":"g","fontSize":23,"fontWeight":"bold","color":"#111111","align":"left","baseline":"alphabetic"}},
  {"data":{"name":"one"},"transform":[{"calculate":"-1.14","as":"x"},{"calculate":"0.91","as":"y"}],"mark":{"type":"text","text":"p","fontSize":14,"fontWeight":"bold","fontStyle":"italic","color":"#111111","align":"left","baseline":"middle"}},
  {"data":{"name":"one"},"transform":[{"calculate":"-1.075","as":"x"},{"calculate":"0.91","as":"y"}],"mark":{"type":"text","text":"-out","fontSize":14,"fontWeight":"bold","color":"#111111","align":"left","baseline":"middle"}}
 ]},
{"width":264,"height":264,
 "encoding":{"x":{"field":"x","type":"quantitative","scale":{"domain":[-1,1],"nice":false,"zero":false},"axis":null},
  "y":{"field":"y","type":"quantitative","scale":{"domain":[-1,1],"nice":false,"zero":false},"axis":null}},
 "layer":[
  {"data":{"name":"one"},"transform":[{"calculate":"0","as":"x"},{"calculate":"0","as":"y"}],"mark":{"type":"point","shape":"circle","size":69696,"filled":false,"color":"#333333","strokeWidth":1.1,"opacity":1}},
  {"data":{"name":"one"},"transform":[{"calculate":"0","as":"x"},{"calculate":"0","as":"y"}],"mark":{"type":"point","shape":"circle","size":17424,"filled":false,"color":"#999999","strokeWidth":1,"strokeDash":[1.5,1.5],"opacity":1}},
  {"data":{"name":"grid"},"transform":[{"calculate":"0.5*cos(datum.t*PI/180)","as":"x"},{"calculate":"0.5*sin(datum.t*PI/180)","as":"y"},{"calculate":"cos(datum.t*PI/180)","as":"x2"},{"calculate":"sin(datum.t*PI/180)","as":"y2"}],"mark":{"type":"rule","color":"#999999","strokeWidth":1,"strokeDash":[1.5,1.5]},"encoding":{"x2":{"field":"x2"},"y2":{"field":"y2"}}},
  {"data":{"name":"grid"},"transform":[{"calculate":"datum.t%180==0?1.1:(datum.t%180==90?1.14:1.17)","as":"lr"},{"calculate":"datum.lr*cos(datum.t*PI/180)","as":"x"},{"calculate":"datum.lr*sin(datum.t*PI/180)","as":"y"}],"mark":{"type":"text","fontSize":17,"fontWeight":"bold","color":"#111111","align":"center","baseline":"middle"},"encoding":{"text":{"field":"lab"}}},
  {"data":{"name":"curves"},"transform":[{"filter":"datum.p=='h'"},{"calculate":"datum.m*cos(datum.t*PI/180)","as":"x"},{"calculate":"datum.m*sin(datum.t*PI/180)","as":"y"}],"mark":{"type":"line","color":"#5e4fa2","strokeWidth":3.2,"interpolate":"catmull-rom"},"encoding":{"order":{"field":"t","type":"quantitative"}}},
  {"data":{"name":"curves"},"transform":[{"filter":"datum.p=='h'"},{"calculate":"datum.f*cos(datum.t*PI/180)","as":"x"},{"calculate":"datum.f*sin(datum.t*PI/180)","as":"y"}],"mark":{"type":"line","color":"#1a1aee","strokeWidth":2.6,"strokeDash":[7,4],"interpolate":"catmull-rom"},"encoding":{"order":{"field":"t","type":"quantitative"}}},
  {"data":{"name":"one"},"transform":[{"calculate":"-0.03","as":"x"},{"calculate":"0.7","as":"y"}],"mark":{"type":"text","text":"650 K","fontSize":16,"fontWeight":"bold","color":"#5e4fa2","align":"right","baseline":"middle"}},
  {"data":{"name":"one"},"transform":[{"calculate":"-1.2","as":"x"},{"calculate":"1.125","as":"y"}],"mark":{"type":"text","text":"h","fontSize":23,"fontWeight":"bold","color":"#111111","align":"left","baseline":"alphabetic"}}
 ]},
{"width":278,"height":264,
 "encoding":{"x":{"field":"x","type":"quantitative","scale":{"domain":[-1.106,1],"nice":false,"zero":false},"axis":null},
  "y":{"field":"y","type":"quantitative","scale":{"domain":[-1,1],"nice":false,"zero":false},"axis":null}},
 "layer":[
  {"data":{"name":"one"},"transform":[{"calculate":"0","as":"x"},{"calculate":"0","as":"y"}],"mark":{"type":"point","shape":"circle","size":69696,"filled":false,"color":"#333333","strokeWidth":1.1,"opacity":1}},
  {"data":{"name":"one"},"transform":[{"calculate":"0","as":"x"},{"calculate":"0","as":"y"}],"mark":{"type":"point","shape":"circle","size":17424,"filled":false,"color":"#999999","strokeWidth":1,"strokeDash":[1.5,1.5],"opacity":1}},
  {"data":{"name":"grid"},"transform":[{"calculate":"0.5*cos(datum.t*PI/180)","as":"x"},{"calculate":"0.5*sin(datum.t*PI/180)","as":"y"},{"calculate":"cos(datum.t*PI/180)","as":"x2"},{"calculate":"sin(datum.t*PI/180)","as":"y2"}],"mark":{"type":"rule","color":"#999999","strokeWidth":1,"strokeDash":[1.5,1.5]},"encoding":{"x2":{"field":"x2"},"y2":{"field":"y2"}}},
  {"data":{"name":"grid"},"transform":[{"calculate":"datum.t%180==0?1.1:(datum.t%180==90?1.14:1.17)","as":"lr"},{"calculate":"datum.lr*cos(datum.t*PI/180)","as":"x"},{"calculate":"datum.lr*sin(datum.t*PI/180)","as":"y"}],"mark":{"type":"text","fontSize":17,"fontWeight":"bold","color":"#111111","align":"center","baseline":"middle"},"encoding":{"text":{"field":"lab"}}},
  {"data":{"name":"curves"},"transform":[{"filter":"datum.p=='i'"},{"calculate":"datum.m*cos(datum.t*PI/180)","as":"x"},{"calculate":"datum.m*sin(datum.t*PI/180)","as":"y"}],"mark":{"type":"line","color":"#2f2d55","strokeWidth":3.2,"interpolate":"catmull-rom"},"encoding":{"order":{"field":"t","type":"quantitative"}}},
  {"data":{"name":"curves"},"transform":[{"filter":"datum.p=='i'"},{"calculate":"datum.f*cos(datum.t*PI/180)","as":"x"},{"calculate":"datum.f*sin(datum.t*PI/180)","as":"y"}],"mark":{"type":"line","color":"#1a1aee","strokeWidth":2.6,"strokeDash":[7,4],"interpolate":"catmull-rom"},"encoding":{"order":{"field":"t","type":"quantitative"}}},
  {"data":{"name":"one"},"transform":[{"calculate":"-0.03","as":"x"},{"calculate":"0.7","as":"y"}],"mark":{"type":"text","text":"700 K","fontSize":16,"fontWeight":"bold","color":"#2f2d55","align":"right","baseline":"middle"}},
  {"data":{"name":"one"},"transform":[{"calculate":"-1.1","as":"x"},{"calculate":"1.125","as":"y"}],"mark":{"type":"text","text":"i","fontSize":23,"fontWeight":"bold","color":"#111111","align":"left","baseline":"alphabetic"}}
 ]}
]
}
